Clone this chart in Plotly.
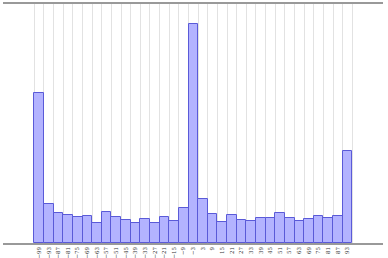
import plotly.graph_objects as go

centers = list(range(-99, 94, 6))
counts = [150, 39, 30, 28, 26, 27, 20, 31, 26, 23, 20, 24, 20, 26, 22, 35, 219,
          44, 29, 21, 28, 23, 22, 25, 25, 30, 25, 22, 24, 27, 25, 27, 92]
tick_labels = [("\u2212" + str(-c)) if c < 0 else str(c) for c in centers]
bin_edges = list(range(-102, 97, 6))

fig = go.Figure()
fig.add_trace(go.Bar(
    x=centers, y=counts, width=6,
    marker=dict(color="#b3b3ff", line=dict(color="#5a5ad8", width=1)),
))
fig.update_layout(
    width=388, height=258,
    margin=dict(l=3, r=5, t=4, b=15, autoexpand=False),
    paper_bgcolor="white", plot_bgcolor="white",
    showlegend=False, bargap=0,
    font=dict(family="DejaVu Serif", size=6, color="#333"),
)
fig.update_xaxes(
    range=[-121.5, 115.1], automargin=False,
    tickmode="array", tickvals=centers, ticktext=tick_labels,
    tickangle=-90, ticks="", showgrid=False, zeroline=False,
    showline=True, mirror=True, linecolor="#999", linewidth=1.5,
    tickfont=dict(size=5.5, family="DejaVu Serif", color="#333"),
    minor=dict(tickmode="array", tickvals=bin_edges, showgrid=True,
               gridcolor="#e2e2e2", gridwidth=1, ticks=""),
)
fig.update_yaxes(
    range=[0, 239], showticklabels=False, showgrid=False, zeroline=False,
    showline=False, ticks="", automargin=False,
)
fig.write_html("out.html")
